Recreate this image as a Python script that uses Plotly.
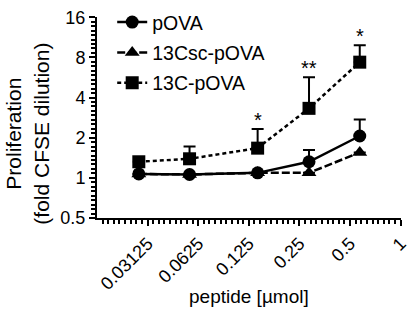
import numpy as np
import plotly.graph_objects as go

# x positions (peptide, µmol)
dose = [0.0277, 0.0555, 0.141, 0.285, 0.571]

pova = [1.07, 1.06, 1.09, 1.32, 2.06]
pova_err_hi = [0.0, 0.0, 0.0, 0.30, 0.68]

csc = [1.07, 1.06, 1.09, 1.09, 1.55]
csc_err_hi = [0.0, 0.0, 0.0, 0.0, 0.0]

c13 = [1.32, 1.39, 1.67, 3.32, 7.37]
c13_err_hi = [0.0, 0.33, 0.65, 2.37, 2.49]

sig_idx = [2, 3, 4]
sig_text = ["*", "**", "*"]

x_ticks = [0.03125, 0.0625, 0.125, 0.25, 0.5, 1]
x_ticktext = ["0.03125", "0.0625", "0.125", "0.25", "0.5", "1"]
y_ticks = [0.5, 1, 2, 4, 8, 16]
y_ticktext = ["0.5", "1", "2", "4", "8", "16"]

FONT = "Liberation Sans, Arial, sans-serif"

fig = go.Figure()

def add(name, y, err, symbol, dash, group, rank):
    fig.add_trace(go.Scatter(
        x=dose, y=y, name=name, mode="lines+markers",
        legendgroup=group, legendrank=rank,
        line=dict(color="black", width=2.5, dash=dash),
        marker=dict(symbol=symbol, size=13, color="black"),
        error_y=dict(type="data", symmetric=False, array=err,
                     arrayminus=[0]*len(err), color="black",
                     thickness=2, width=6),
    ))

add("13C-pOVA", c13, c13_err_hi, "square", "4px,3px", "c", 3)
add("13Csc-pOVA", csc, csc_err_hi, "triangle-up", "8px,3px", "b", 2)
add("pOVA", pova, pova_err_hi, "circle", "solid", "a", 1)

for i, t in zip(sig_idx, sig_text):
    fig.add_annotation(x=np.log10(dose[i]), y=np.log10(c13[i] + c13_err_hi[i]),
                       text=t, showarrow=False, yanchor="bottom", yshift=-4,
                       font=dict(size=20, color="black", family=FONT))

# axis titles
fig.add_annotation(xref="paper", yref="paper", x=0.5, y=-0.39,
                   text="peptide [µmol]", showarrow=False,
                   xanchor="center", yanchor="middle",
                   font=dict(size=19, color="black", family=FONT))
fig.add_annotation(xref="paper", yref="paper", x=-0.23, y=0.42,
                   text="Proliferation<br>(fold CFSE dilution)", showarrow=False,
                   textangle=-90, xanchor="center", yanchor="middle",
                   font=dict(size=21, color="black", family=FONT))

minor_x = [2 ** (k + j / 9) for k in range(-6, 0) for j in range(1, 9)]
minor_y = [2 ** (k + j / 9) for k in range(-1, 4) for j in range(1, 9)]

fig.update_layout(
    width=413, height=313,
    margin=dict(l=97, r=3, t=6, b=95),
    plot_bgcolor="white", paper_bgcolor="white",
    font=dict(family=FONT, color="black"),
    showlegend=True,
    legend=dict(x=0.05, y=1.07, xanchor="left", yanchor="top",
                traceorder="grouped", tracegroupgap=2,
                font=dict(size=19.5, family=FONT),
                bgcolor="rgba(0,0,0,0)", itemwidth=30),
    xaxis=dict(type="log", range=[np.log10(0.015625), 0.002],
               tickvals=x_ticks, ticktext=x_ticktext, tickangle=-45,
               ticks="outside", ticklen=6, tickwidth=2, tickcolor="black",
               showline=True, linecolor="black", linewidth=2,
               showgrid=False, zeroline=False, ticklabeloverflow="allow",
               tickfont=dict(size=18, family=FONT),
               minor=dict(tickvals=minor_x, ticks="outside", ticklen=4,
                          tickwidth=1.5, tickcolor="black", showgrid=False)),
    yaxis=dict(type="log", range=[np.log10(0.5), np.log10(16) + 0.002],
               tickvals=y_ticks, ticktext=y_ticktext,
               ticks="outside", ticklen=6, tickwidth=2, tickcolor="black",
               showline=True, linecolor="black", linewidth=2,
               showgrid=False, zeroline=False, ticklabeloverflow="allow",
               tickfont=dict(size=18, family=FONT),
               minor=dict(tickvals=minor_y, ticks="outside", ticklen=4,
                          tickwidth=1.5, tickcolor="black", showgrid=False)),
)

fig.write_html("out.html", config={"displayModeBar": False},
               post_script="document.body.style.margin='0px';")
